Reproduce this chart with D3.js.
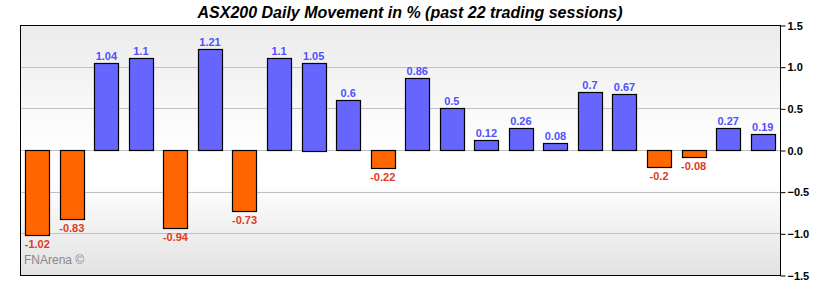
<!DOCTYPE html>
<meta charset="utf-8">
<style>
body { margin: 0; background: #fff; }
text { font-family: Arial, "Liberation Sans", sans-serif; }
.title { font: italic bold 16px Arial, "Liberation Sans", sans-serif; fill: #000; }
.axis text { font: bold 11px Arial, "Liberation Sans", sans-serif; fill: #000; }
.grid line { stroke: #c0c0c0; stroke-width: 1px; }
.bar { stroke: #000; stroke-width: 1.2px; }
.val { font: bold 11px Arial, "Liberation Sans", sans-serif; text-anchor: middle; }
</style>
<body>
<script src="https://d3js.org/d3.v7.min.js"></script>
<script>

var sessions = d3.range(1, 23);
var moves = [-1.02, -0.83, 1.04, 1.1, -0.94, 1.21, -0.73, 1.1, 1.05, 0.6, -0.22,
             0.86, 0.5, 0.12, 0.26, 0.08, 0.7, 0.67, -0.2, -0.08, 0.27, 0.19];
var yTicks = [-1.5, -1.0, -0.5, 0.0, 0.5, 1.0, 1.5];

// note: "top" is read-only on window, so plot edges get a prefix
var width = 820, height = 290,
    pLeft = 20, pRight = 780, pTop = 25, pBottom = 275;

var svg = d3.select("body").append("svg")
    .attr("width", width)
    .attr("height", height);

var x = d3.scaleBand()
    .domain(sessions)
    .range([pLeft, pRight])
    .paddingInner(0.3)
    .paddingOuter(0.15);

var y = d3.scaleLinear()
    .domain([-1.5, 1.5])
    .range([pBottom, pTop]);

// background gradients: grey at the edges fading to white at zero
var defs = svg.append("defs");
var gTop = defs.append("linearGradient").attr("id", "gtop")
    .attr("x1", 0).attr("y1", 0).attr("x2", 0).attr("y2", 1);
gTop.append("stop").attr("offset", "0%").attr("stop-color", "#ebebeb");
gTop.append("stop").attr("offset", "100%").attr("stop-color", "#ffffff");
var gBot = defs.append("linearGradient").attr("id", "gbot")
    .attr("x1", 0).attr("y1", 0).attr("x2", 0).attr("y2", 1);
gBot.append("stop").attr("offset", "0%").attr("stop-color", "#ffffff");
gBot.append("stop").attr("offset", "25%").attr("stop-color", "#ffffff");
gBot.append("stop").attr("offset", "100%").attr("stop-color", "#e2e2e2");

svg.append("rect")
    .attr("x", pLeft).attr("y", pTop)
    .attr("width", pRight - pLeft).attr("height", y(0) - pTop)
    .attr("fill", "url(#gtop)");
svg.append("rect")
    .attr("x", pLeft).attr("y", y(0))
    .attr("width", pRight - pLeft).attr("height", pBottom - y(0))
    .attr("fill", "url(#gbot)");

// gridlines
svg.append("g")
    .attr("class", "grid")
  .selectAll("line")
  .data(yTicks.filter(function(d) { return Math.abs(d) < 1.5; }))
  .enter().append("line")
    .attr("x1", pLeft).attr("x2", pRight)
    .attr("y1", function(d) { return Math.round(y(d)) + 0.5; })
    .attr("y2", function(d) { return Math.round(y(d)) + 0.5; });

// bars
svg.append("g").selectAll("rect")
  .data(moves)
  .enter().append("rect")
    .attr("class", "bar")
    .attr("x", function(d, i) { return Math.round(x(sessions[i])) + 0.5; })
    .attr("width", Math.round(x.bandwidth()))
    .attr("y", function(d) { return Math.round(y(Math.max(0, d))) + 0.5; })
    .attr("height", function(d) { return Math.max(1, Math.round(Math.abs(y(d) - y(0)))); })
    .attr("fill", function(d) { return d >= 0 ? "#6666ff" : "#ff6600"; });

// value labels
svg.append("g").selectAll("text")
  .data(moves)
  .enter().append("text")
    .attr("class", "val")
    .attr("x", function(d, i) { return x(sessions[i]) + x.bandwidth() / 2; })
    .attr("y", function(d) { return d >= 0 ? y(d) - 3 : y(d) + 13; })
    .attr("fill", function(d) { return d >= 0 ? "#5050ff" : "#e03a20"; })
    .text(function(d) { return String(d); });

// frame
svg.append("rect")
    .attr("x", pLeft + 0.5).attr("y", pTop + 0.5)
    .attr("width", pRight - pLeft).attr("height", pBottom - pTop)
    .attr("fill", "none").attr("stroke", "#000");

// right axis
var axis = svg.append("g")
    .attr("class", "axis")
    .attr("transform", "translate(" + (pRight + 0.5) + ",0.5)")
    .call(d3.axisRight(y).tickValues(yTicks).tickFormat(d3.format(".1f")).tickSize(5).tickPadding(2));
axis.select(".domain").remove();
axis.selectAll("line").attr("stroke", "#000");

// title
svg.append("text")
    .attr("class", "title")
    .attr("x", 410).attr("y", 18)
    .attr("text-anchor", "middle")
    .text("ASX200 Daily Movement in % (past 22 trading sessions)");

svg.append("text")
    .attr("x", 24).attr("y", 264)
    .attr("fill", "#888")
    .style("font-size", "12px")
    .text("FNArena ©");

</script>
